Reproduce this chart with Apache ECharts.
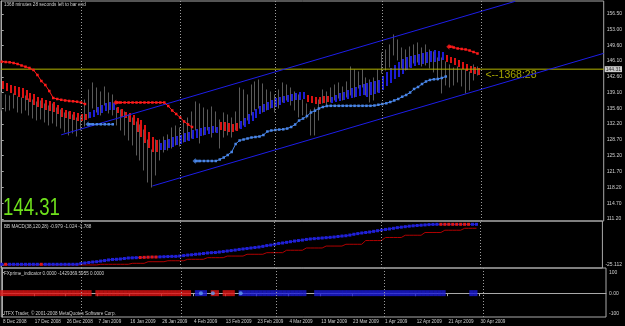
<!DOCTYPE html>
<html>
<head>
<meta charset="utf-8">
<script src="https://cdn.jsdelivr.net/npm/echarts@6/dist/echarts.min.js"></script>
<style>
  html, body { margin: 0; padding: 0; background: #000; }
  #chart { width: 625px; height: 326px; }
</style>
</head>
<body>
<div id="chart"></div>
<script>
// bar index 0 = 8 Dec 2008 ... 120 = 30 Apr 2009 (daily)
const dateTicks = [0, 8, 16, 24, 32, 40, 48, 56, 64, 72, 80, 88, 96, 104, 112, 120];
const dateLabels = ['8 Dec 2008', '17 Dec 2008', '26 Dec 2008', '7 Jan 2009', '16 Jan 2009', '26 Jan 2009',
  '4 Feb 2009', '13 Feb 2009', '23 Feb 2009', '4 Mar 2009', '13 Mar 2009', '23 Mar 2009',
  '1 Apr 2009', '12 Apr 2009', '21 Apr 2009', '30 Apr 2009'];
const monthSeparators = [20, 45, 69, 96, 121];

const priceTicks = [111.2, 114.7, 118.2, 121.7, 125.2, 128.7, 132.2, 135.6, 139.1, 142.6, 146.1, 149.6, 153.0, 156.5];
const lastPrice = 144.31;

// gray price bars
const barHigh = [
  139.05, 138.61, 138.38, 138.83, 138.16, 137.94, 138.38, 137.72, 137.50, 137.06,
  137.28, 136.62, 136.17, 136.62, 135.73, 135.29, 134.63, 134.85, 134.19, 133.52,
  133.96, 137.50, 139.71, 141.26, 140.15, 139.27, 140.37, 139.05, 138.61, 135.73,
  135.29, 134.85, 134.19, 133.52, 132.64, 131.98, 130.87, 128.66, 126.45, 128.66,
  128.66, 129.32, 129.77, 131.31, 131.75, 131.31, 132.64, 133.52, 134.85, 137.06,
  136.62, 135.73, 135.29, 135.95, 134.85, 133.08, 134.63, 134.19, 133.52, 134.85,
  140.15, 139.71, 138.61, 140.81, 141.48, 141.92, 141.04, 139.71, 139.27, 138.61,
  139.71, 141.26, 140.81, 140.15, 139.27, 138.61, 137.50, 136.62, 135.29, 135.73,
  137.50, 139.71, 139.27, 140.15, 140.81, 141.26, 140.37, 141.48, 144.79, 144.13,
  143.69, 144.13, 142.36, 141.92, 142.36, 144.13, 147.89, 148.55, 149.66, 151.87,
  150.76, 148.99, 148.55, 149.21, 149.66, 150.10, 148.99, 149.66, 148.55, 148.11,
  146.78, 146.78, 145.90, 145.24, 144.57, 144.79, 144.13, 144.13, 143.69, 145.24,
  144.79
];
const barLow = [
  135.29, 135.07, 135.29, 135.73, 134.85, 134.63, 135.29, 134.19, 133.52, 133.08,
  133.30, 132.64, 131.98, 132.42, 131.75, 131.31, 130.43, 129.77, 130.21, 129.54,
  130.87, 131.75, 133.52, 135.73, 134.85, 134.19, 136.40, 134.63, 134.19, 131.98,
  130.87, 129.77, 128.66, 127.56, 125.35, 124.24, 122.03, 119.38, 118.27, 120.93,
  124.24, 126.01, 126.45, 126.89, 127.56, 127.33, 128.22, 128.66, 129.10, 130.87,
  128.00, 129.77, 130.87, 129.32, 130.43, 126.89, 129.32, 129.77, 129.32, 130.87,
  131.31, 131.98, 133.08, 134.19, 135.29, 135.73, 134.85, 135.29, 135.73, 134.85,
  135.73, 137.06, 137.50, 136.40, 135.29, 133.74, 134.19, 133.52, 129.77, 129.77,
  133.08, 136.84, 136.40, 137.06, 137.50, 137.94, 137.50, 138.16, 138.61, 138.16,
  140.15, 140.37, 138.61, 137.06, 137.50, 139.27, 143.47, 144.13, 144.79, 147.45,
  146.34, 144.57, 144.13, 144.79, 145.68, 145.90, 145.01, 145.24, 144.57, 143.69,
  141.92, 139.05, 140.81, 140.37, 140.81, 141.48, 140.59, 139.05, 139.71, 141.92,
  143.02
];

// heiken-ashi style coloured bodies
const haOpen = [
  141.70, 141.26, 140.81, 140.59, 140.37, 140.15, 139.71, 139.05, 138.83, 138.16,
  137.94, 137.50, 137.28, 137.06, 136.40, 135.73, 135.29, 135.07, 134.85, 134.63,
  134.41, 134.41, 133.52, 133.74, 134.19, 134.63, 135.07, 135.29, 135.29, 135.95,
  135.51, 134.85, 134.63, 134.19, 133.52, 133.08, 131.98, 130.43, 129.32, 128.66,
  126.45, 126.45, 126.89, 127.11, 127.56, 127.78, 128.22, 128.44, 128.88, 129.10,
  129.54, 129.77, 129.99, 130.21, 130.21, 132.64, 132.64, 132.42, 132.20, 132.42,
  131.09, 131.53, 132.20, 132.86, 133.52, 134.41, 134.85, 135.29, 135.73, 135.95,
  136.40, 136.84, 137.06, 137.28, 137.50, 137.50, 137.72, 138.61, 138.38, 138.16,
  138.16, 138.38, 138.38, 136.84, 137.06, 137.28, 137.50, 137.72, 137.94, 138.16,
  138.38, 138.61, 138.16, 138.61, 138.83, 139.05, 139.71, 140.59, 141.26, 142.14,
  142.58, 143.25, 144.13, 144.57, 145.01, 145.24, 145.46, 145.68, 145.90, 145.90,
  146.12, 146.34, 147.45, 147.00, 146.78, 146.34, 145.90, 145.46, 145.01, 144.79,
  144.57
];
const haClose = [
  139.93, 139.49, 139.05, 138.61, 138.16, 137.94, 137.50, 137.06, 136.40, 135.95,
  135.73, 135.29, 135.07, 134.85, 134.41, 133.74, 133.52, 133.30, 133.08, 132.86,
  132.86, 133.08, 134.85, 135.29, 135.95, 136.40, 136.84, 137.06, 136.84, 134.63,
  133.74, 133.52, 132.64, 131.98, 130.43, 129.32, 128.00, 126.89, 126.01, 126.01,
  128.00, 128.66, 128.88, 129.32, 129.54, 129.77, 130.21, 130.43, 130.87, 131.09,
  131.31, 131.53, 131.53, 131.75, 131.53, 130.87, 130.65, 130.43, 130.43, 130.65,
  132.86, 133.52, 134.41, 134.85, 135.51, 136.17, 136.62, 137.06, 137.50, 137.94,
  138.16, 138.38, 138.61, 138.83, 139.05, 139.27, 139.27, 137.06, 136.84, 136.62,
  136.62, 136.84, 137.06, 138.16, 138.61, 139.05, 139.27, 139.71, 140.15, 140.37,
  140.81, 141.04, 141.26, 141.48, 141.70, 141.92, 142.80, 143.69, 144.57, 145.24,
  145.90, 146.56, 147.00, 147.22, 147.45, 147.67, 147.89, 148.11, 148.33, 148.55,
  148.33, 148.11, 145.90, 145.68, 145.24, 144.79, 144.35, 143.91, 143.47, 143.25,
  143.02
];

// trailing stop lines (null = not drawn)
const sellStop = [
  145.96, 145.89, 145.83, 145.67, 145.45, 145.12, 144.85, 144.57, 144.13, 143.02,
  141.69, 140.81, 139.48, 137.94, 137.72, 137.54, 137.39, 137.28, 137.21, 137.12,
  136.94, 136.61, null, null, null, null, null, null, null, 136.94,
  136.94, 136.94, 136.94, 136.94, 136.94, 136.94, 136.94, 136.94, 136.94, 136.94,
  136.94, 136.94, 136.17, 135.18, 134.41, 133.63, 132.75, 132.09, 131.53, null,
  null, null, null, null, null, null, null, null, null, null,
  null, null, null, null, null, null, null, null, null, null,
  null, null, null, null, null, null, null, null, null, null,
  null, null, null, null, null, null, null, null, null, null,
  null, null, null, null, null, null, null, null, null, null,
  null, null, null, null, null, null, null, null, null, null,
  null, null, null, 149.28, 149.10, 148.88, 148.77, 148.66, 148.43, 148.10,
  147.77
];
const buyStop = [
  null, null, null, null, null, null, null, null, null, null,
  null, null, null, null, null, null, null, null, null, null,
  null, null, 132.13, 132.13, 132.13, 132.13, 132.13, 132.13, 132.13, null,
  null, null, null, null, null, null, null, null, null, null,
  null, null, null, null, null, null, null, null, null, 124.02,
  124.02, 124.02, 124.02, 124.02, 124.02, 124.35, 124.79, 125.34, 126.01, 127.77,
  128.55, 128.77, 128.99, 129.21, 129.32, 129.43, 129.76, 130.53, 130.76, 130.87,
  130.97, 131.02, 131.19, 131.53, 132.08, 132.96, 133.40, 133.96, 134.73, 135.13,
  135.62, 135.95, 136.17, 136.21, 136.21, 136.21, 136.21, 136.21, 136.21, 136.21,
  136.21, 136.21, 136.21, 136.21, 136.28, 136.44, 136.61, 136.77, 137.05, 137.39,
  137.72, 138.22, 138.60, 139.15, 139.93, 140.37, 141.03, 141.58, 141.92, 142.07,
  142.14, 142.36, 142.69, null, null, null, null, null, null, null,
  null
];
const sellArrows = [29, 113];
const buyArrows = [22, 49];

// hand drawn channel (two anchor points each)
const channelUpper = [[15, 129.8], [129.5, 159.3]];
const channelLower = [[38, 118.5], [151.8, 147.8]];

// BB MACD sub window
const macdMain = [
  -24.7, -24.7, -24.7, -24.7, -24.7, -24.7, -24.7, -24.7, -24.7, -24.7,
  -24.7, -24.7, -24.7, -24.7, -24.7, -24.7, -24.7, -24.7, -24.7, -24.7,
  -24.2, -23.9, -23.6, -23.3, -23.1, -22.7, -22.4, -22.0, -21.7, -21.6,
  -21.4, -21.1, -20.8, -20.7, -20.6, -20.5, -20.4, -20.3, -20.2, -20.2,
  -20.1, -20.0, -19.9, -19.8, -19.8, -19.6, -19.3, -19.0, -18.8, -18.5,
  -18.3, -18.0, -17.7, -17.5, -17.4, -17.1, -16.8, -16.5, -16.2, -15.9,
  -15.5, -15.2, -14.9, -14.6, -14.3, -14.0, -13.6, -13.1, -12.8, -12.3,
  -11.8, -11.5, -11.1, -10.7, -10.3, -10.0, -9.7, -9.3, -9.0, -8.8,
  -8.6, -8.4, -8.2, -8.0, -7.8, -7.5, -7.2, -7.0, -6.6, -6.1,
  -5.7, -5.3, -5.0, -4.7, -4.3, -3.9, -3.5, -3.1, -2.8, -2.4,
  -2.0, -1.7, -1.4, -1.1, -0.85, -0.67, -0.48, -0.30, -0.11, 0.0,
  0.07, 0.07, 0.07, 0.07, 0.07, 0.07, 0.07, 0.07, 0.07, 0.07,
  0.07
];
const macdSignal = [
  -25.1, -25.1, -25.1, -25.1, -25.1, -25.1, -25.1, -25.1, -25.1, -25.1,
  -25.1, -25.1, -25.1, -25.1, -25.1, -25.1, -25.1, -25.1, -25.1, -25.1,
  -25.1, -25.1, -25.1, -25.1, -25.1, -24.7, -24.7, -24.7, -24.7, -24.7,
  -24.7, -24.7, -24.7, -24.1, -24.1, -24.1, -24.1, -23.1, -23.1, -23.1,
  -23.1, -23.1, -22.5, -22.5, -22.5, -22.5, -22.5, -21.6, -21.6, -21.6,
  -21.6, -21.6, -20.6, -20.6, -20.6, -20.6, -20.6, -19.6, -19.6, -19.6,
  -19.6, -19.6, -18.5, -18.5, -18.5, -18.5, -18.5, -17.5, -17.5, -17.5,
  -17.5, -17.5, -16.0, -16.0, -16.0, -16.0, -16.0, -14.6, -14.6, -14.6,
  -14.6, -14.6, -13.4, -13.4, -13.4, -13.4, -13.4, -12.3, -12.3, -12.3,
  -12.3, -12.3, -10.0, -10.0, -10.0, -10.0, -10.0, -8.1, -8.1, -8.1,
  -8.1, -8.1, -6.7, -6.7, -6.7, -6.7, -6.7, -5.0, -5.0, -5.0,
  -5.0, -5.0, -3.6, -3.6, -3.6, -3.6, -3.6, -2.4, -2.4, -2.4,
  -2.4
];
const macdRedBars = [1, 10, 35, 36, 37, 38, 39, 111, 112, 113, 114, 115, 116, 117, 118];

// FXprime indicator: [first bar, last bar]
const fxSellRuns = [[0, 22], [24, 47], [53, 54], [56, 58]];
const fxBuyRuns = [[49, 51], [60, 76], [79, 111], [118, 119]];
const fxDots = [50, 53, 60];

const X_MIN = -0.18, X_MAX = 151.83;
const FONT = '"Liberation Sans", Arial, sans-serif';
const GRAY_TXT = '#cfcfcf';
const FRAME = '#a9a9a9';

function runsToPoints(runs) {
  const pts = [];
  runs.forEach(function (r) { for (let i = r[0]; i <= r[1]; i++) pts.push([i, 0]); });
  return pts;
}

function renderBar(params, api) {
  const i = api.value(0);
  const lo = api.coord([i, api.value(1)]);
  const hi = api.coord([i, api.value(2)]);
  const px = Math.round(lo[0]) - 0.5;
  return {
    type: 'line',
    shape: { x1: px, y1: lo[1] + 0.5, x2: px, y2: hi[1] - 0.5 },
    style: { stroke: '#5a5a5a', lineWidth: 1 }
  };
}

function renderHa(params, api) {
  const i = api.value(0), o = api.value(1), c = api.value(2);
  const a = api.coord([i, o]), b = api.coord([i, c]);
  const top = Math.min(a[1], b[1]);
  return {
    type: 'rect',
    shape: { x: Math.round(a[0]), y: Math.round(top), width: 2, height: Math.max(1, Math.round(Math.abs(a[1] - b[1]))) },
    style: { fill: c > o ? '#1c1cd6' : '#dc1212' }
  };
}

const arrowPath = 'path://M0,5 L5,0 L5,3 L11,3 L11,7 L5,7 L5,10 Z';

function sepLine() {
  return {
    silent: true,
    symbol: 'none',
    label: { show: false },
    lineStyle: { color: '#9c9c9c', width: 1, type: [1, 2] },
    data: monthSeparators.map(function (v) { return { xAxis: v }; })
  };
}

function xAxisFor(grid, showLabels) {
  return {
    type: 'value', gridIndex: grid, min: X_MIN, max: X_MAX,
    splitLine: { show: false },
    axisLine: { show: showLabels, lineStyle: { color: FRAME } },
    axisTick: showLabels ? { show: true, customValues: dateTicks, length: 3, lineStyle: { color: FRAME } } : { show: false },
    axisLabel: showLabels ? {
      show: true, customValues: dateTicks, color: GRAY_TXT, fontSize: 4.6, fontFamily: FONT,
      align: 'left', margin: 2, padding: [0, 0, 0, 1],
      formatter: function (v) { return dateLabels[dateTicks.indexOf(Math.round(v))] || ''; }
    } : { show: false }
  };
}

const chart = echarts.init(document.getElementById('chart'));

chart.setOption({
  backgroundColor: '#000',
  animation: false,
  grid: [
    { left: 1, right: 19, top: 1, height: 220, show: true, borderColor: FRAME, borderWidth: 1, containLabel: false },
    { left: 1, right: 19, top: 221, height: 47, show: true, borderColor: FRAME, borderWidth: 1, containLabel: false },
    { left: 1, right: 19, top: 268, height: 49, show: true, borderColor: FRAME, borderWidth: 1, containLabel: false }
  ],
  xAxis: [xAxisFor(0, false), xAxisFor(1, false), xAxisFor(2, true)],
  yAxis: [
    {
      type: 'value', gridIndex: 0, position: 'right', min: 110.76, max: 159.37,
      splitLine: { show: false },
      axisLine: { show: true, lineStyle: { color: FRAME } },
      axisTick: { show: true, customValues: priceTicks, length: 2, lineStyle: { color: FRAME } },
      axisLabel: {
        customValues: priceTicks, color: GRAY_TXT, fontSize: 5, fontFamily: FONT, margin: 3,
        formatter: function (v) { return v.toFixed(2); }
      }
    },
    {
      type: 'value', gridIndex: 1, position: 'right', min: -27.0, max: 2.12,
      splitLine: { show: false },
      axisLine: { show: true, lineStyle: { color: FRAME } },
      axisTick: { show: true, customValues: [-25.112], length: 2, lineStyle: { color: FRAME } },
      axisLabel: {
        customValues: [-25.112], color: GRAY_TXT, fontSize: 5, fontFamily: FONT, margin: 3,
        formatter: function (v) { return v.toFixed(3); }
      }
    },
    {
      type: 'value', gridIndex: 2, position: 'right', min: -114.4, max: 120.6,
      splitLine: { show: false },
      axisLine: { show: true, lineStyle: { color: FRAME } },
      axisTick: { show: true, customValues: [-100, 0, 100], length: 2, lineStyle: { color: FRAME } },
      axisLabel: {
        customValues: [-100, 0, 100], color: GRAY_TXT, fontSize: 5, fontFamily: FONT, margin: 3,
        formatter: function (v) { return v === 0 ? '0.00' : String(v); }
      }
    }
  ],
  series: [
    {
      type: 'custom', xAxisIndex: 0, yAxisIndex: 0, clip: true, silent: true,
      renderItem: renderBar,
      data: barHigh.map(function (h, i) { return [i, barLow[i], h]; })
    },
    {
      type: 'custom', xAxisIndex: 0, yAxisIndex: 0, clip: true, silent: true,
      renderItem: renderHa,
      data: haOpen.map(function (o, i) { return [i, o, haClose[i]]; })
    },
    {
      name: 'bid line', type: 'line', xAxisIndex: 0, yAxisIndex: 0, silent: true,
      symbol: 'none', lineStyle: { color: '#b4b400', width: 1 },
      data: [[X_MIN, lastPrice], [X_MAX, lastPrice]],
      markLine: sepLine()
    },
    {
      type: 'scatter', xAxisIndex: 0, yAxisIndex: 0, silent: true, symbolSize: 0,
      label: {
        show: true, position: 'right', distance: 1, formatter: lastPrice.toFixed(2),
        color: '#000', backgroundColor: '#fff', fontSize: 5, fontFamily: FONT, padding: [1, 1, 0, 1]
      },
      data: [[X_MAX, lastPrice]]
    },
    {
      name: 'channel up', type: 'line', xAxisIndex: 0, yAxisIndex: 0, clip: true, silent: true,
      symbol: 'none', lineStyle: { color: '#1d1de8', width: 1 },
      data: channelUpper
    },
    {
      name: 'channel down', type: 'line', xAxisIndex: 0, yAxisIndex: 0, clip: true, silent: true,
      symbol: 'none', lineStyle: { color: '#1d1de8', width: 1 },
      data: channelLower
    },
    {
      name: 'sell stop', type: 'line', xAxisIndex: 0, yAxisIndex: 0, silent: true,
      symbol: 'rect', symbolSize: 2.5, showSymbol: true,
      itemStyle: { color: '#ff1a1a' }, lineStyle: { color: '#ff1a1a', width: 1 },
      data: sellStop.map(function (v, i) { return [i, v]; })
    },
    {
      name: 'buy stop', type: 'line', xAxisIndex: 0, yAxisIndex: 0, silent: true,
      symbol: 'rect', symbolSize: 2.5, showSymbol: true,
      itemStyle: { color: '#4a86e8' }, lineStyle: { color: '#4a86e8', width: 1 },
      data: buyStop.map(function (v, i) { return [i, v]; })
    },
    {
      type: 'scatter', xAxisIndex: 0, yAxisIndex: 0, silent: true,
      symbol: arrowPath, symbolSize: [7, 6], itemStyle: { color: '#ff1a1a' },
      data: sellArrows.map(function (i) { return [i, sellStop[i]]; })
    },
    {
      type: 'scatter', xAxisIndex: 0, yAxisIndex: 0, silent: true,
      symbol: arrowPath, symbolSize: [7, 6], itemStyle: { color: '#4a86e8' },
      data: buyArrows.map(function (i) { return [i, buyStop[i]]; })
    },
    {
      type: 'scatter', xAxisIndex: 0, yAxisIndex: 0, silent: true, symbolSize: 0,
      label: {
        show: true, position: 'right', distance: 0, offset: [0, 5.5],
        formatter: '<--1368:28', color: '#cccc00', fontSize: 10.5, fontFamily: FONT
      },
      data: [[122, lastPrice]]
    },
    {
      name: 'macd signal', type: 'line', xAxisIndex: 1, yAxisIndex: 1, silent: true,
      symbol: 'none', lineStyle: { color: '#b00000', width: 1 },
      data: macdSignal.map(function (v, i) { return [i, v]; }),
      markLine: sepLine()
    },
    {
      name: 'macd', type: 'line', xAxisIndex: 1, yAxisIndex: 1, silent: true,
      symbol: 'rect', symbolSize: 3, showSymbol: true,
      lineStyle: { color: '#2020d8', width: 1 },
      itemStyle: {
        color: function (p) { return macdRedBars.indexOf(p.dataIndex) >= 0 ? '#e01818' : '#2020d8'; }
      },
      data: macdMain.map(function (v, i) { return [i, v]; })
    },
    {
      type: 'scatter', xAxisIndex: 2, yAxisIndex: 2, silent: true,
      symbol: 'rect', symbolSize: [4.2, 6], itemStyle: { color: '#e01414' },
      data: runsToPoints(fxSellRuns),
      markLine: sepLine()
    },
    {
      type: 'scatter', xAxisIndex: 2, yAxisIndex: 2, silent: true,
      symbol: 'rect', symbolSize: [4.2, 6], itemStyle: { color: '#1c1cd8' },
      data: runsToPoints(fxBuyRuns)
    },
    {
      type: 'scatter', xAxisIndex: 2, yAxisIndex: 2, silent: true,
      symbol: 'circle', symbolSize: 4, itemStyle: { color: '#5c9cf0' },
      data: fxDots.map(function (i) { return [i, 0]; })
    }
  ],
  graphic: [
    { type: 'text', x: 4, y: 4.5, silent: true,
      style: { text: '1368 minutes 28 seconds left to bar end', fill: GRAY_TXT, font: '4.6px ' + FONT, verticalAlign: 'middle' } },
    { type: 'text', x: 4, y: 227, silent: true,
      style: { text: 'BB MACD(38,120,28) -0.979 -1.024 -1.788', fill: GRAY_TXT, font: '4.6px ' + FONT, verticalAlign: 'middle' } },
    { type: 'text', x: 4, y: 274, silent: true,
      style: { text: 'FXprime_indicator 0.0000 -1429369.5955 0.0000', fill: GRAY_TXT, font: '4.6px ' + FONT, verticalAlign: 'middle' } },
    { type: 'text', x: 4, y: 313.5, silent: true,
      style: { text: 'ITFX Trader, \u00a9 2001-2008 MetaQuotes Software Corp.', fill: GRAY_TXT, font: '4.6px ' + FONT, verticalAlign: 'middle' } },
    { type: 'text', x: 3, y: 197, scaleX: 0.81, silent: true,
      style: { text: '144.31', fill: '#6fe21c', font: '23px ' + FONT, verticalAlign: 'top' } }
  ]
});
</script>
</body>
</html>
